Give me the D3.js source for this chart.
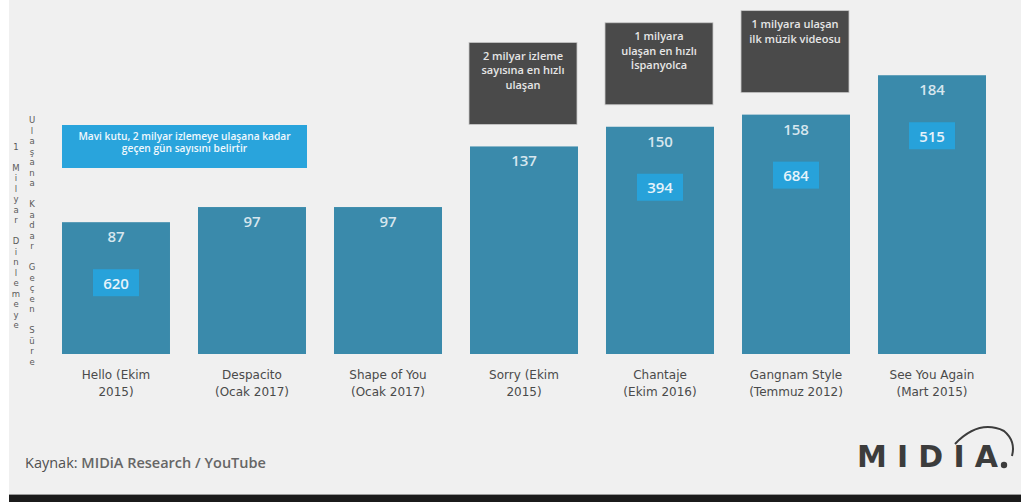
<!DOCTYPE html>
<html>
<head>
<meta charset="utf-8">
<script src="https://cdn.jsdelivr.net/npm/d3@7"></script>
<style>
  html, body { margin: 0; padding: 0; background: #ffffff; }
  svg { display: block; }
</style>
</head>
<body>
<svg id="chart" width="1028" height="502"></svg>
<script>
// Days needed to reach 1 billion views, per video
const categories = [
  "Hello (Ekim\n2015)",
  "Despacito\n(Ocak 2017)",
  "Shape of You\n(Ocak 2017)",
  "Sorry (Ekim\n2015)",
  "Chantaje\n(Ekim 2016)",
  "Gangnam Style\n(Temmuz 2012)",
  "See You Again\n(Mart 2015)"
];
const daysTo1B = [87, 97, 97, 137, 150, 158, 184];
// Days needed to reach 2 billion views (blue inner boxes)
const daysTo2B = [620, null, null, null, 394, 684, 515];
// Callouts above selected bars
const notes = [
  null, null, null,
  "2 milyar izleme\nsayısına en hızlı\nulaşan",
  "1 milyara\nulaşan en hızlı\nİspanyolca",
  "1 milyara ulaşan\nilk müzik videosu",
  null
];
const legendText = "Mavi kutu, 2 milyar izlemeye ulaşana kadar\ngeçen gün sayısını belirtir";
const yTitleLeft = "1 Milyar Dinlemeye";
const yTitleRight = "Ulaşana Kadar Geçen Süre";

const svg = d3.select("#chart");
const FONT = "'DejaVu Sans', Verdana, sans-serif";
const FONT2 = "'Open Sans', 'DejaVu Sans', sans-serif";

// page background and bottom band
svg.append("rect").attr("x", 9).attr("y", 0).attr("width", 1012).attr("height", 495).attr("fill", "#f0f0f0");
svg.append("rect").attr("x", 9).attr("y", 494).attr("width", 1012).attr("height", 1).attr("fill", "#9a9a9a");
svg.append("rect").attr("x", 9).attr("y", 495).attr("width", 1012).attr("height", 7).attr("fill", "#1b1b1b");

const x = d3.scaleBand()
  .domain(d3.range(categories.length))
  .range([62, 986])
  .paddingInner(0.206)
  .paddingOuter(0);

const y = d3.scaleLinear().domain([0, 200]).range([354, 51]);

// bars
svg.append("g").selectAll("rect")
  .data(daysTo1B)
  .join("rect")
  .attr("x", (d, i) => x(i))
  .attr("y", d => y(d))
  .attr("width", x.bandwidth())
  .attr("height", d => y(0) - y(d))
  .attr("fill", "#3a8aab");

// value labels at the top of each bar
svg.append("g").selectAll("text")
  .data(daysTo1B)
  .join("text")
  .attr("x", (d, i) => x(i) + x.bandwidth() / 2)
  .attr("y", d => y(d) + 20)
  .attr("text-anchor", "middle")
  .attr("font-family", FONT2)
  .attr("font-size", 15)
  .attr("font-weight", 600)
  .attr("fill", "#d6e6ee")
  .text(d => d);

// 2-billion boxes inside the bars
const inner = svg.append("g").selectAll("g")
  .data(daysTo2B.map((v, i) => ({ v, i })).filter(d => d.v != null))
  .join("g")
  .attr("transform", d => `translate(${x(d.i) + x.bandwidth() / 2},${y(daysTo1B[d.i]) + 61})`);
inner.append("rect")
  .attr("x", -23).attr("y", -14).attr("width", 46).attr("height", 27)
  .attr("fill", "#27a2da");
inner.append("text")
  .attr("text-anchor", "middle")
  .attr("dy", "0.36em")
  .attr("font-family", FONT2)
  .attr("font-size", 15)
  .attr("font-weight", 600)
  .attr("fill", "#e6f3fa")
  .text(d => d.v);

// callout boxes above bars
const callouts = svg.append("g").selectAll("g")
  .data(notes.map((t, i) => ({ t, i })).filter(d => d.t))
  .join("g")
  .attr("transform", d => `translate(${x(d.i)},${y(daysTo1B[d.i]) - 22 - 82})`);
callouts.append("rect")
  .attr("x", -1).attr("width", x.bandwidth()).attr("height", 82)
  .attr("fill", "#4a4a4a")
  .attr("stroke", "#c8c8c8").attr("stroke-width", 0.8);
callouts.append("text")
  .attr("text-anchor", "middle")
  .attr("font-family", FONT2)
  .attr("font-size", 11)
  .attr("font-weight", 600)
  .attr("fill", "#e6e6e6")
  .selectAll("tspan")
  .data(d => d.t.split("\n"))
  .join("tspan")
  .attr("x", x.bandwidth() / 2 - 1)
  .attr("y", (d, k) => 17.5 + k * 14.5)
  .text(d => d);

// legend box
const legend = svg.append("g").attr("transform", "translate(62,125)");
legend.append("rect").attr("width", 245).attr("height", 43).attr("fill", "#29a4dc");
legend.append("text")
  .attr("text-anchor", "middle")
  .attr("font-family", FONT2)
  .attr("font-size", 10.2)
  .attr("font-weight", 600)
  .attr("fill", "#f0f8fd")
  .selectAll("tspan")
  .data(legendText.split("\n"))
  .join("tspan")
  .attr("x", 122.5)
  .attr("y", (d, k) => 15 + k * 12)
  .text(d => d);

// category axis with two-line labels
const xAxis = svg.append("g")
  .attr("transform", `translate(0,${y(0)})`)
  .call(d3.axisBottom(x).tickSize(0).tickFormat(i => categories[i]));
xAxis.select(".domain").remove();
xAxis.selectAll(".tick text").each(function (i) {
  const t = d3.select(this);
  t.text(null)
    .attr("y", 0)
    .attr("dy", null)
    .attr("font-family", FONT)
    .attr("font-size", 12)
    .attr("fill", "#4a4a4a");
  categories[i].split("\n").forEach((line, k) => {
    t.append("tspan").attr("x", 0).attr("y", 25 + k * 17).text(line);
  });
});

// vertical axis title, one character per line
function stacked(str, cx, cy) {
  const step = 10.5;
  const chars = Array.from(str);
  const top = cy - (chars.length - 1) * step / 2;
  svg.append("text")
    .attr("text-anchor", "middle")
    .attr("font-family", FONT)
    .attr("font-size", 8.5)
    .attr("fill", "#5a5a5a")
    .selectAll("tspan")
    .data(chars)
    .join("tspan")
    .attr("x", cx)
    .attr("y", (d, k) => top + k * step + 3)
    .text(d => d);
}
stacked(yTitleLeft, 16, 236);
stacked(yTitleRight, 32, 241);

// source line
const src = svg.append("text")
  .attr("x", 25).attr("y", 468)
  .attr("font-family", FONT2)
  .attr("font-size", 14.5);
src.append("tspan").attr("fill", "#505050").text("Kaynak: ");
src.append("tspan").attr("fill", "#666").attr("font-weight", 600).text("MIDiA Research / YouTube");

// logo
const logo = svg.append("g").attr("fill", "#3c3c3c");
logo.append("text")
  .attr("x", 857).attr("y", 467)
  .attr("font-family", FONT)
  .attr("font-size", 30)
  .attr("font-weight", "bold")
  .attr("textLength", 141)
  .attr("lengthAdjust", "spacing")
  .text("MIDIA");
logo.append("path")
  .attr("d", "M955,444 Q979,419 1004,431 Q1016,441 1012,456")
  .attr("fill", "none")
  .attr("stroke", "#3c3c3c")
  .attr("stroke-width", 2);
logo.append("circle").attr("cx", 1004).attr("cy", 465).attr("r", 3.2);
</script>
</body>
</html>
